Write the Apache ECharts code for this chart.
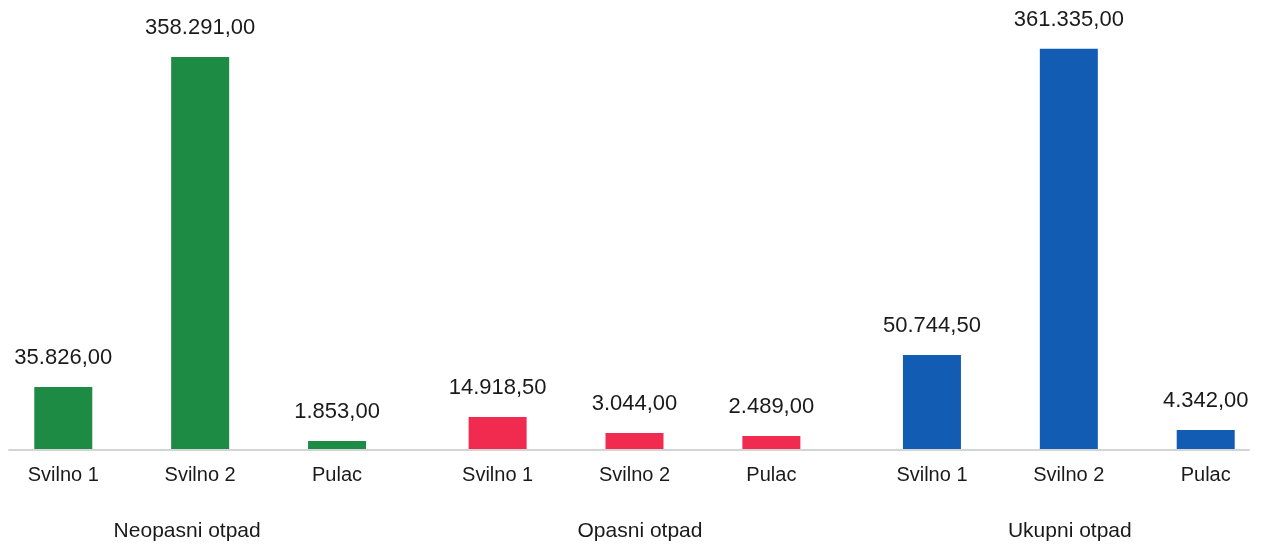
<!DOCTYPE html>
<html><head><meta charset="utf-8">
<script src="https://cdn.jsdelivr.net/npm/echarts@6/dist/echarts.min.js"></script>
<style>html,body{margin:0;padding:0;background:#fff;overflow:hidden;width:1266px;height:548px}
#c{position:absolute;left:-17px;top:0;width:1303px;height:548px}</style>
</head><body><div id="c"></div>
<script>
// Groups (x categories) and sites (bars within each group)
const groups = ['Neopasni otpad', 'Opasni otpad', 'Ukupni otpad'];
const sites = ['Svilno 1', 'Svilno 2', 'Pulac'];
const groupColors = ['#1e8b45', '#f12a50', '#125db3'];

// Printed values (labels), per site, across groups
const svilno1Printed = [35826, 14918.5, 50744.5];
const svilno2Printed = [358291, 3044, 361335];
const pulacPrinted = [1853, 2489, 4342];

// Bar lengths as drawn in the picture (same units)
const svilno1Bars = [56000, 28900, 84900];
const svilno2Bars = [354000, 14400, 361300];
const pulacBars = [7200, 11700, 17200];

const printed = [svilno1Printed, svilno2Printed, pulacPrinted];
const bars = [svilno1Bars, svilno2Bars, pulacBars];

function fmt(n) {
  const fixed = n.toFixed(2);
  let [intPart, dec] = fixed.split('.');
  intPart = intPart.replace(/\B(?=(\d{3})+(?!\d))/g, '.');
  return intPart + ',' + dec;
}

const FONT = '"Liberation Sans", Arial, Helvetica, sans-serif';
const TEXT = '#1a1a1a';
const series = [];
sites.forEach((site, i) => {
  series.push({
    type: 'bar', stack: 's' + i, barWidth: 58, barGap: '136%',
    data: groups.map(() => 0),
    itemStyle: { color: 'rgba(0,0,0,0)' },
    silent: true, z: 3,
    label: { show: true, position: 'bottom', distance: 16, formatter: site,
      fontSize: 20, color: TEXT, fontFamily: FONT }
  });
  series.push({
    type: 'bar', stack: 's' + i, barWidth: 58, barGap: '136%',
    data: bars[i].map((v, g) => ({ value: v, itemStyle: { color: groupColors[g] } })),
    label: { show: true, position: 'top', distance: 18,
      formatter: p => fmt(printed[i][p.dataIndex]),
      fontSize: 22, color: TEXT, fontFamily: FONT }
  });
});

const chart = echarts.init(document.getElementById('c'), null, { renderer: 'canvas' });
chart.setOption({
  animation: false,
  backgroundColor: '#ffffff',
  grid: [
    { left: 0, right: 0, top: 6, bottom: 99, containLabel: false },
    { left: 26, right: 37, top: 6, bottom: 98, containLabel: false }
  ],
  xAxis: [{
    type: 'category', data: groups, gridIndex: 0,
    axisTick: { show: false },
    axisLine: { show: false },
    axisLabel: { margin: 72, fontSize: 21, color: TEXT, fontFamily: FONT,
      formatter: (v, idx) => '{g' + idx + '|' + v + '}',
      rich: {
        g0: { fontSize: 21, color: TEXT, fontFamily: FONT, padding: [0, 26, 0, 0] },
        g1: { fontSize: 21, color: TEXT, fontFamily: FONT, padding: [0, 0, 0, 11] },
        g2: { fontSize: 21, color: TEXT, fontFamily: FONT, padding: [0, 0, 0, 2] }
      }
    }
  }, {
    type: 'category', data: groups, gridIndex: 1,
    axisTick: { show: false },
    axisLabel: { show: false },
    axisLine: { show: true, lineStyle: { color: '#d4d4d4', width: 2 } }
  }],
  yAxis: [
    { type: 'value', min: 0, max: 400000, show: false, gridIndex: 0 },
    { type: 'value', min: 0, max: 400000, show: false, gridIndex: 1 }
  ],
  series: series
});
</script>
</body></html>
